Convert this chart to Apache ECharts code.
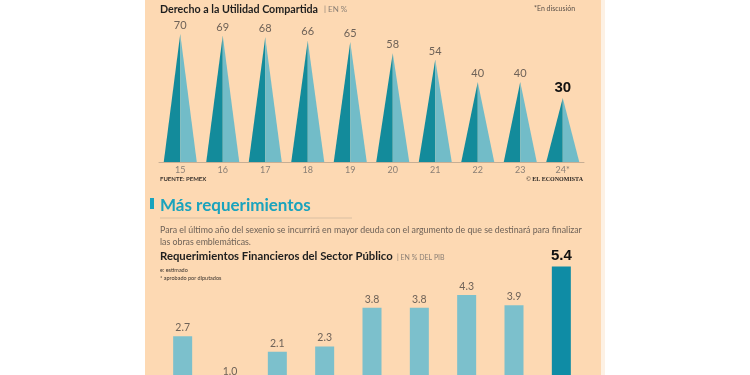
<!DOCTYPE html>
<html>
<head>
<meta charset="utf-8">
<script src="https://cdn.jsdelivr.net/npm/echarts@6/dist/echarts.min.js"></script>
<style>
  html, body { margin: 0; padding: 0; background: #fff; overflow: hidden; }
  /* the lower chart's baseline sits below the visible window, so the canvas is taller */
  #chart { width: 750px; height: 410px; }
</style>
</head>
<body>
<div id="chart"></div>
<script>
// Derecho a la Utilidad Compartida (EN %)
const dudYears = ['15', '16', '17', '18', '19', '20', '21', '22', '23', '24*']
const dudValues = [70, 69, 68, 66, 65, 58, 54, 40, 40, 30]

// Requerimientos Financieros del Sector Publico (EN % DEL PIB)
const rfspYears = ['2016', '2017', '2018', '2019', '2020', '2021', '2022', '2023e', '2024*']
const rfspValues = [2.7, 1.0, 2.1, 2.3, 3.8, 3.8, 4.3, 3.9, 5.4]

const peach = '#fdd9b3'
const darkTeal = '#138b9b'
const lightTeal = '#72bcc8'
const barLight = '#7cc0cc'
const barDark = '#0f8ca5'
const textGray = '#6e6258'
const font = 'Lato'

const chart = echarts.init(document.getElementById('chart'))

chart.setOption({
  backgroundColor: '#fff',
  animation: false,
  graphic: [
    // panel
    { type: 'rect', z: -10, shape: { x: 145, y: 0, width: 456, height: 410 }, style: { fill: peach } },
    { type: 'rect', z: -10, shape: { x: 601, y: 0, width: 4, height: 410 }, style: { fill: '#fdf1e4' } },
    // top title
    { type: 'text', left: 160, top: 4, style: { text: 'Derecho a la Utilidad Compartida', font: 'bold 10.7px ' + font, fill: '#1e1e1e' } },
    { type: 'text', left: 324, top: 5, style: { text: '| EN %', font: '8px ' + font, fill: '#8a7f75' } },
    { type: 'text', left: 534, top: 5, style: { text: '*En discusión', font: '7px ' + font, fill: '#5a5048' } },
    { type: 'text', left: 160, top: 176, style: { text: 'FUENTE: PEMEX', font: 'bold 6px ' + font, fill: '#3a332e' } },
    { type: 'text', right: 167, top: 176, style: { text: '© EL ECONOMISTA', font: 'bold 6px "Liberation Serif"', fill: '#2a2522' } },
    // second section header
    { type: 'rect', shape: { x: 150, y: 198, width: 4, height: 11 }, style: { fill: '#1aa3bd' } },
    { type: 'text', left: 160, top: 197, style: { text: 'Más requerimientos', font: 'bold 17px ' + font, fill: '#1aa3bd' } },
    { type: 'line', shape: { x1: 160, y1: 218, x2: 352, y2: 218 }, style: { stroke: '#d9bfa2', lineWidth: 1 } },
    { type: 'text', left: 160, top: 226, style: { text: 'Para el último año del sexenio se incurrirá en mayor deuda con el argumento de que se destinará para finalizar', font: '8.8px ' + font, fill: textGray } },
    { type: 'text', left: 160, top: 238, style: { text: 'las obras emblemáticas.', font: '8.8px ' + font, fill: textGray } },
    { type: 'text', left: 160, top: 251, style: { text: 'Requerimientos Financieros del Sector Público', font: 'bold 11.3px ' + font, fill: '#1e1e1e' } },
    { type: 'text', left: 397, top: 254, style: { text: '| EN % DEL PIB', font: '7px ' + font, fill: '#8a7f75' } },
    { type: 'text', left: 160, top: 267, style: { text: 'e: estimado', font: '5.5px ' + font, fill: '#3a332e' } },
    { type: 'text', left: 160, top: 275, style: { text: '* aprobado por diputados', font: '5.5px ' + font, fill: '#3a332e' } }
  ],
  grid: [
    { left: 159, right: 166, top: 18, height: 144 },
    { left: 159, right: 165, top: 251, height: 155 }
  ],
  xAxis: [{
    type: 'category',
    gridIndex: 0,
    data: dudYears,
    axisLine: { onZero: false, lineStyle: { color: '#c7ae94', width: 1 } },
    axisTick: { show: false },
    axisLabel: { color: '#8a7f75', fontFamily: font, fontSize: 9, margin: 4 }
  }, {
    type: 'category',
    gridIndex: 1,
    data: rfspYears,
    axisLine: { show: false },
    axisTick: { show: false },
    axisLabel: { show: false }
  }],
  yAxis: [{
    type: 'value',
    gridIndex: 0,
    min: -10,
    max: 80,
    show: false
  }, {
    type: 'value',
    gridIndex: 1,
    min: 0,
    max: 6,
    show: false
  }],
  series: [{
    type: 'custom',
    xAxisIndex: 0,
    yAxisIndex: 0,
    data: dudValues.map((v, i) => [i, v]),
    renderItem: function (params, api) {
      const apex = api.coord([api.value(0), api.value(1)])
      const base = api.coord([api.value(0), -10])
      const half = 16.5
      const last = params.dataIndex === dudValues.length - 1
      return {
        type: 'group',
        children: [{
          type: 'polygon',
          shape: { points: [[base[0] - half, base[1]], [apex[0], apex[1]], [base[0], base[1]]] },
          style: { fill: darkTeal }
        }, {
          type: 'polygon',
          shape: { points: [[base[0], base[1]], [apex[0], apex[1]], [base[0] + half, base[1]]] },
          style: { fill: lightTeal }
        }, {
          type: 'text',
          x: apex[0],
          y: apex[1] - 3,
          style: {
            text: String(api.value(1)),
            align: 'center',
            verticalAlign: 'bottom',
            font: last ? 'bold 15px "Liberation Sans"' : '11px ' + font,
            fill: last ? '#111' : textGray
          }
        }]
      }
    }
  }, {
    type: 'bar',
    xAxisIndex: 1,
    yAxisIndex: 1,
    barWidth: 19,
    data: rfspValues.map((v, i) => {
      const last = i === rfspValues.length - 1
      return {
        value: v,
        itemStyle: { color: last ? barDark : barLight },
        label: last
          ? { fontWeight: 'bold', fontSize: 15, color: '#111', fontFamily: 'Liberation Sans' }
          : {}
      }
    }),
    label: {
      show: true,
      position: 'top',
      distance: 3,
      color: textGray,
      fontFamily: font,
      fontSize: 10.5,
      formatter: p => p.value.toFixed(1)
    }
  }]
})
</script>
</body>
</html>
